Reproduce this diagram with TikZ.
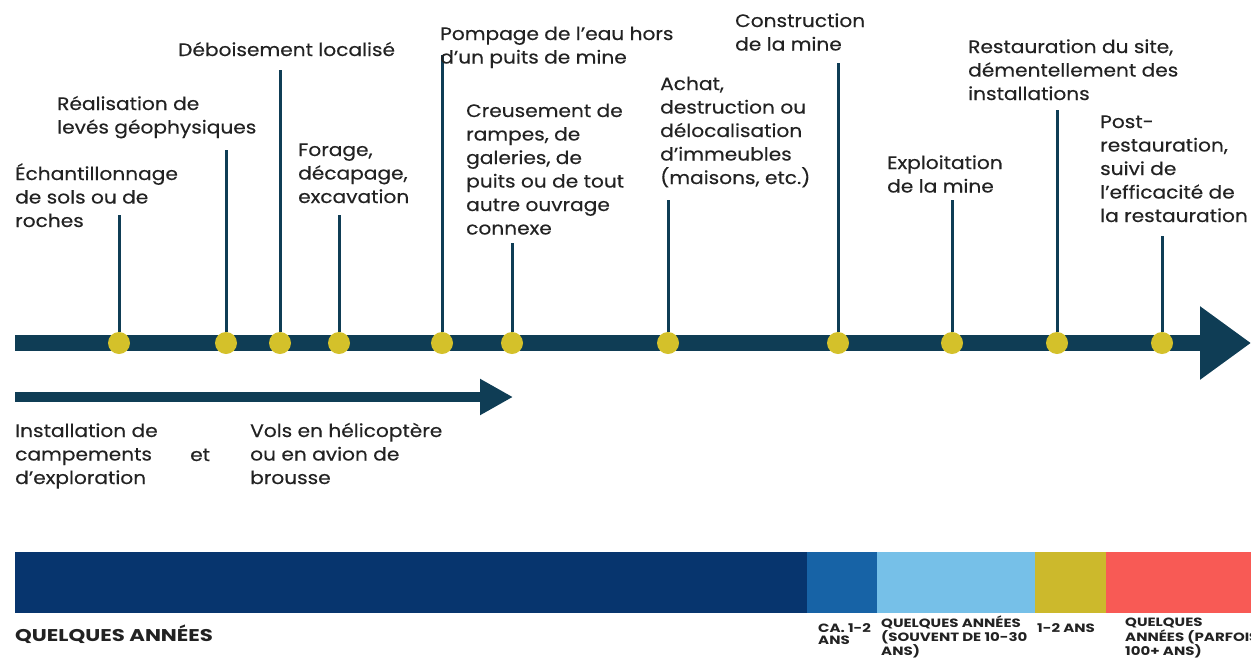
\documentclass[tikz,border=0pt]{standalone}
\usepackage{fontspec}
\setmainfont[FakeStretch=1.12, FakeBold=0.35]{Poppins}
\newfontfamily\capsfont[FakeStretch=1.25]{Poppins}
\usetikzlibrary{arrows.meta}
\definecolor{tl}{HTML}{0F3D55}
\definecolor{yel}{HTML}{D4C12A}
\definecolor{cnavy}{HTML}{07356E}
\definecolor{cblue}{HTML}{1763A6}
\definecolor{clight}{HTML}{76C0E8}
\definecolor{colive}{HTML}{CCB92C}
\definecolor{ccoral}{HTML}{F85A55}
\definecolor{txt}{HTML}{222222}
\tikzset{
  lbl/.style={anchor=base west, align=left, inner sep=0pt, text=txt,
    font=\fontsize{18}{23.5}\selectfont},
  small/.style={anchor=base west, align=left, inner sep=0pt, text=txt,
    font=\capsfont\fontsize{12}{11.5}\selectfont\bfseries},
  stem/.style={line width=3pt, draw=tl},
  ydot/.style={circle, fill=yel, minimum size=22pt, inner sep=0pt},
}
\begin{document}
\begin{tikzpicture}[x=1pt,y=-1pt]
\useasboundingbox (0,0) rectangle (1251,662);
% main timeline
\coordinate (ms) at (15,343);
\coordinate (me) at (1251,343);
\draw[tl, line width=16pt, -{Triangle[width=70pt,length=51pt]}] (ms) -- (me);
% second arrow
\coordinate (as) at (15,397);
\coordinate (ae) at (513,397);
\draw[tl, line width=10pt, -{Triangle[width=34pt,length=33pt]}] (as) -- (ae);
% stem tops
\coordinate (t1) at (119,215);
\coordinate (t2) at (226,150);
\coordinate (t3) at (280,70);
\coordinate (t4) at (339,215);
\coordinate (t5) at (442,55);
\coordinate (t6) at (512,243);
\coordinate (t7) at (668,200);
\coordinate (t8) at (838,63);
\coordinate (t9) at (952,200);
\coordinate (t10) at (1057,110);
\coordinate (t11) at (1162,236);
% dots
\foreach \i/\x in {1/119,2/226,3/280,4/339,5/442,6/512,7/668,8/838,9/952,10/1057,11/1162}{
  \node[ydot] (d\i) at (\x,343) {};
  \draw[stem] (d\i) -- (t\i);
}
% labels (anchored at the baseline of the last line)
\node[lbl] (l1) at (15,227) {Échantillonnage\\de sols ou de\\roches};
\node[lbl] (l2) at (57,133.5) {Réalisation de\\levés géophysiques};
\node[lbl] (l3) at (178,56) {Déboisement localisé};
\node[lbl] (l4) at (298,203) {Forage,\\décapage,\\excavation};
\node[lbl] (l5) at (440,63.5) {Pompage de l’eau hors\\d’un puits de mine};
\node[lbl] (l6) at (466,234.5) {Creusement de\\rampes, de\\galeries, de\\puits ou de tout\\autre ouvrage\\connexe};
\node[lbl] (l7) at (660,184) {Achat,\\destruction ou\\délocalisation\\d’immeubles\\(maisons, etc.)};
\node[lbl] (l8) at (735,50.5) {Construction\\de la mine};
\node[lbl] (l9) at (887,192.5) {Exploitation\\de la mine};
\node[lbl] (l10) at (968,100) {Restauration du site,\\démentellement des\\installations};
\node[lbl] (l11) at (1100,222) {Post-\\restauration,\\suivi de\\l’efficacité de\\la restauration};
\node[lbl] (l12) at (15,484) {Installation de\\campements\\d’exploration};
\node[lbl] (l13) at (190,461) {et};
\node[lbl] (l14) at (250,484) {Vols en hélicoptère\\ou en avion de\\brousse};
% duration bar
\fill[cnavy] (15,552) rectangle (807,613);
\fill[cblue] (807,552) rectangle (877,613);
\fill[clight] (877,552) rectangle (1035,613);
\fill[colive] (1035,552) rectangle (1106,613);
\fill[ccoral] (1106,552) rectangle (1251,613);
\node[anchor=base west, inner sep=0pt, text=txt, font=\capsfont\fontsize{17}{18}\selectfont\bfseries] (b1) at (15,641) {QUELQUES ANNÉES};
\node[small] (b2) at (818,644) {CA. 1-2\\ANS};
\node[small] (b3) at (881,655.5) {QUELQUES ANNÉES\\(SOUVENT DE 10-30\\ANS)};
\node[small] (b4) at (1037,632.5) {1-2 ANS};
\node[small] (b5) at (1125,655.5) {QUELQUES\\ANNÉES (PARFOIS\\100+ ANS)};
\end{tikzpicture}
\end{document}
